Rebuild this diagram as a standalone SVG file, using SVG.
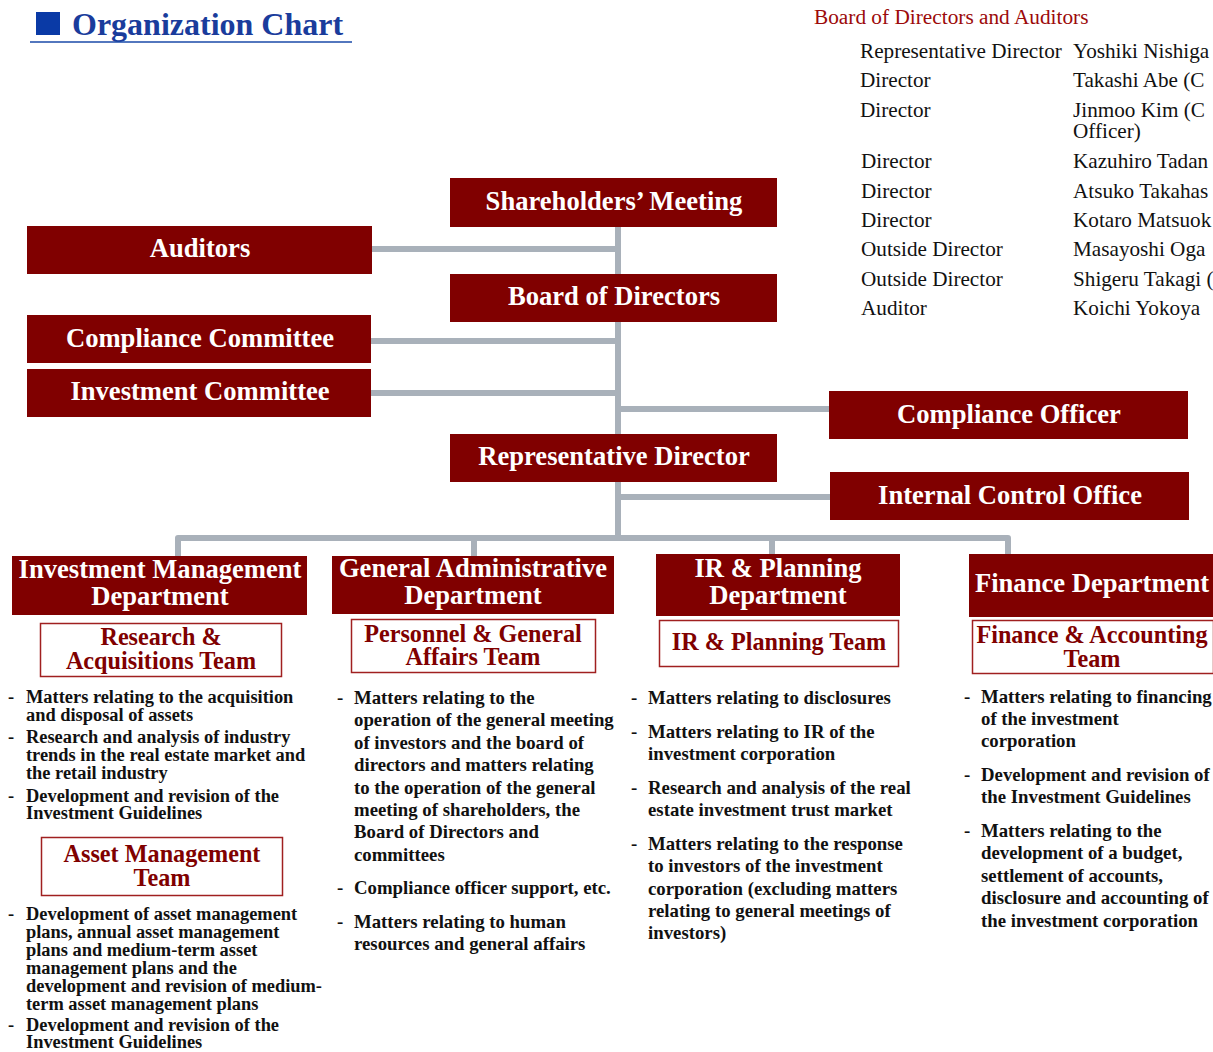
<svg xmlns="http://www.w3.org/2000/svg" width="1213" height="1052" viewBox="0 0 1213 1052">
  <style>
    .box { fill: #800000; }
    .team { fill: #ffffff; stroke: #a02020; stroke-width: 1.5; }
    .bt { font-family: "Liberation Serif", "Times New Roman", serif; font-weight: bold; font-size: 26.6px; fill: #ffffff; text-anchor: middle; }
    .tt { font-family: "Liberation Serif", "Times New Roman", serif; font-weight: bold; font-size: 24.2px; fill: #800000; text-anchor: middle; }
    .li { font-family: "Liberation Serif", "Times New Roman", serif; font-weight: bold; font-size: 18.8px; fill: #111111; }
    .li.tight { font-size: 18.4px; }
    .tb { font-family: "Liberation Serif", "Times New Roman", serif; font-size: 21.2px; fill: #111111; }
    .conn { fill: none; stroke: #a9b1ba; stroke-width: 6; stroke-linejoin: round; }
  </style>

  <!-- heading -->
  <g id="title">
    <rect x="36" y="12" width="24" height="23" fill="#0a3aa6"/>
    <text x="72" y="35" font-family="Liberation Serif, Times New Roman, serif" font-weight="bold" font-size="32" fill="#1a3c9c">Organization Chart</text>
    <line x1="30" y1="42" x2="352" y2="42" stroke="#1a4aa8" stroke-width="1.5"/>
  </g>

  <!-- board roster -->
  <g id="roster">
    <text x="814" y="24" font-family="Liberation Serif, Times New Roman, serif" font-size="21.3" fill="#9c0a0a">Board of Directors and Auditors</text>
    <text class="tb" x="860" y="58">Representative Director</text>
    <text class="tb" x="1073" y="58">Yoshiki Nishiga</text>
    <text class="tb" x="860" y="87">Director</text>
    <text class="tb" x="1073" y="87">Takashi Abe (C</text>
    <text class="tb" x="860" y="117">Director</text>
    <text class="tb" x="1073" y="117">Jinmoo Kim (C</text>
    <text class="tb" x="1073" y="138">Officer)</text>
    <text class="tb" x="861" y="168">Director</text>
    <text class="tb" x="1073" y="168">Kazuhiro Tadan</text>
    <text class="tb" x="861" y="198">Director</text>
    <text class="tb" x="1073" y="198">Atsuko Takahas</text>
    <text class="tb" x="861" y="227">Director</text>
    <text class="tb" x="1073" y="227">Kotaro Matsuok</text>
    <text class="tb" x="861" y="256">Outside Director</text>
    <text class="tb" x="1073" y="256">Masayoshi Oga</text>
    <text class="tb" x="861" y="286">Outside Director</text>
    <text class="tb" x="1073" y="286">Shigeru Takagi (</text>
    <text class="tb" x="861" y="315">Auditor</text>
    <text class="tb" x="1073" y="315">Koichi Yokoya</text>
  </g>

  <!-- connectors -->
  <g id="connectors">
    <line class="conn" x1="618" y1="227" x2="618" y2="538"/>
    <line class="conn" x1="372" y1="249" x2="618" y2="249"/>
    <line class="conn" x1="371" y1="341" x2="618" y2="341"/>
    <line class="conn" x1="371" y1="393" x2="618" y2="393"/>
    <line class="conn" x1="618" y1="409" x2="829" y2="409"/>
    <line class="conn" x1="618" y1="497" x2="830" y2="497"/>
    <path class="conn" d="M178 556 V538 H1008 V556"/>
    <line class="conn" x1="474" y1="538" x2="474" y2="556"/>
    <line class="conn" x1="772" y1="538" x2="772" y2="556"/>
  </g>

  <!-- governance boxes -->
  <g id="shareholders">
    <rect class="box" x="450" y="178" width="327" height="49"/>
    <text class="bt" x="614" y="210">Shareholders’ Meeting</text>
  </g>
  <g id="auditors">
    <rect class="box" x="27" y="226" width="345" height="48"/>
    <text class="bt" x="200" y="257">Auditors</text>
  </g>
  <g id="board">
    <rect class="box" x="450" y="274" width="327" height="48"/>
    <text class="bt" x="614" y="305">Board of Directors</text>
  </g>
  <g id="compliance-committee">
    <rect class="box" x="27" y="315" width="344" height="48"/>
    <text class="bt" x="200" y="347">Compliance Committee</text>
  </g>
  <g id="investment-committee">
    <rect class="box" x="27" y="369" width="344" height="48"/>
    <text class="bt" x="200" y="400">Investment Committee</text>
  </g>
  <g id="compliance-officer">
    <rect class="box" x="829" y="391" width="359" height="48"/>
    <text class="bt" x="1009" y="423">Compliance Officer</text>
  </g>
  <g id="rep-director">
    <rect class="box" x="450" y="434" width="327" height="48"/>
    <text class="bt" x="614" y="465">Representative Director</text>
  </g>
  <g id="internal-control">
    <rect class="box" x="830" y="472" width="359" height="48"/>
    <text class="bt" x="1010" y="504">Internal Control Office</text>
  </g>

  <!-- Investment Management Department -->
  <g id="dept-investment">
    <rect class="box" x="12" y="556" width="295" height="59"/>
    <text class="bt" x="160" y="578">Investment Management</text>
    <text class="bt" x="160" y="605">Department</text>
    <rect class="team" x="40.5" y="623.5" width="241" height="53"/>
    <text class="tt" x="161" y="645">Research &amp;</text>
    <text class="tt" x="161" y="669">Acquisitions Team</text>
    <g class="li tight">
      <text x="8" y="703">-</text>
      <text x="26" y="703">Matters relating to the acquisition</text>
      <text x="26" y="721">and disposal of assets</text>
      <text x="8" y="743">-</text>
      <text x="26" y="743">Research and analysis of industry</text>
      <text x="26" y="761">trends in the real estate market and</text>
      <text x="26" y="779">the retail industry</text>
      <text x="8" y="802">-</text>
      <text x="26" y="802">Development and revision of the</text>
      <text x="26" y="819">Investment Guidelines</text>
    </g>
    <rect class="team" x="41.5" y="837.5" width="241" height="58"/>
    <text class="tt" x="162" y="862">Asset Management</text>
    <text class="tt" x="162" y="886">Team</text>
    <g class="li tight">
      <text x="8" y="920">-</text>
      <text x="26" y="920">Development of asset management</text>
      <text x="26" y="938">plans, annual asset management</text>
      <text x="26" y="956">plans and medium-term asset</text>
      <text x="26" y="974">management plans and the</text>
      <text x="26" y="992">development and revision of medium-</text>
      <text x="26" y="1010">term asset management plans</text>
      <text x="8" y="1031">-</text>
      <text x="26" y="1031">Development and revision of the</text>
      <text x="26" y="1048">Investment Guidelines</text>
    </g>
  </g>

  <!-- General Administrative Department -->
  <g id="dept-general">
    <rect class="box" x="332" y="556" width="282" height="58"/>
    <text class="bt" x="473" y="577">General Administrative</text>
    <text class="bt" x="473" y="604">Department</text>
    <rect class="team" x="351.5" y="619.5" width="244" height="53"/>
    <text class="tt" x="473" y="642">Personnel &amp; General</text>
    <text class="tt" x="473" y="665">Affairs Team</text>
    <g class="li">
      <text x="337" y="704">-</text>
      <text x="354" y="704">Matters relating to the</text>
      <text x="354" y="726">operation of the general meeting</text>
      <text x="354" y="749">of investors and the board of</text>
      <text x="354" y="771">directors and matters relating</text>
      <text x="354" y="794">to the operation of the general</text>
      <text x="354" y="816">meeting of shareholders, the</text>
      <text x="354" y="838">Board of Directors and</text>
      <text x="354" y="861">committees</text>
      <text x="337" y="894">-</text>
      <text x="354" y="894">Compliance officer support, etc.</text>
      <text x="337" y="928">-</text>
      <text x="354" y="928">Matters relating to human</text>
      <text x="354" y="950">resources and general affairs</text>
    </g>
  </g>

  <!-- IR & Planning Department -->
  <g id="dept-ir">
    <rect class="box" x="656" y="554" width="244" height="62"/>
    <text class="bt" x="778" y="577">IR &amp; Planning</text>
    <text class="bt" x="778" y="604">Department</text>
    <rect class="team" x="659.5" y="620.5" width="239" height="46"/>
    <text class="tt" x="779" y="650">IR &amp; Planning Team</text>
    <g class="li">
      <text x="631" y="704">-</text>
      <text x="648" y="704">Matters relating to disclosures</text>
      <text x="631" y="738">-</text>
      <text x="648" y="738">Matters relating to IR of the</text>
      <text x="648" y="760">investment corporation</text>
      <text x="631" y="794">-</text>
      <text x="648" y="794">Research and analysis of the real</text>
      <text x="648" y="816">estate investment trust market</text>
      <text x="631" y="850">-</text>
      <text x="648" y="850">Matters relating to the response</text>
      <text x="648" y="872">to investors of the investment</text>
      <text x="648" y="895">corporation (excluding matters</text>
      <text x="648" y="917">relating to general meetings of</text>
      <text x="648" y="939">investors)</text>
    </g>
  </g>

  <!-- Finance Department -->
  <g id="dept-finance">
    <rect class="box" x="969" y="554" width="244" height="63"/>
    <text class="bt" x="1092" y="592">Finance Department</text>
    <rect class="team" x="972.5" y="620.5" width="241" height="53"/>
    <text class="tt" x="1092" y="643">Finance &amp; Accounting</text>
    <text class="tt" x="1092" y="667">Team</text>
    <g class="li">
      <text x="964" y="703">-</text>
      <text x="981" y="703">Matters relating to financing</text>
      <text x="981" y="725">of the investment</text>
      <text x="981" y="747">corporation</text>
      <text x="964" y="781">-</text>
      <text x="981" y="781">Development and revision of</text>
      <text x="981" y="803">the Investment Guidelines</text>
      <text x="964" y="837">-</text>
      <text x="981" y="837">Matters relating to the</text>
      <text x="981" y="859">development of a budget,</text>
      <text x="981" y="882">settlement of accounts,</text>
      <text x="981" y="904">disclosure and accounting of</text>
      <text x="981" y="927">the investment corporation</text>
    </g>
  </g>
</svg>
